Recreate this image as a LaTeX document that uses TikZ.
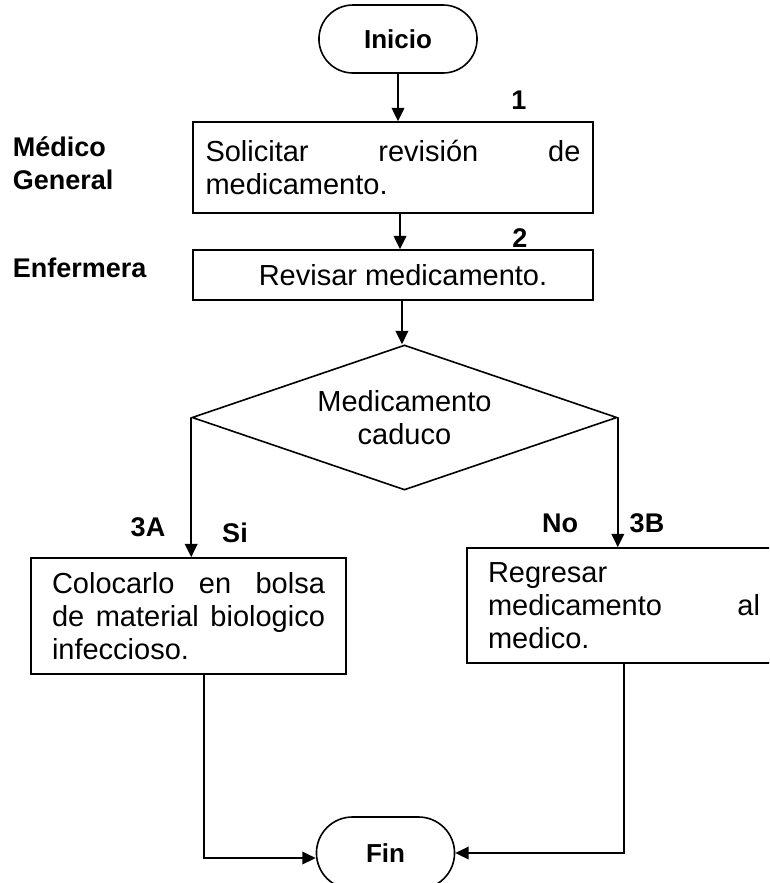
\documentclass[tikz,border=0pt]{standalone}
\usepackage{fontspec}
\setmainfont{Liberation Sans}
\usetikzlibrary{shapes.geometric, shapes.misc, arrows.meta, positioning}
\hyphenpenalty=10000 \exhyphenpenalty=10000 \tolerance=10000 \hbadness=10000
\tikzstyle{block} = [draw, fill=white, rectangle, inner ysep=0pt, inner xsep=15.75pt, align=justify, font=\fontsize{21.75}{24.75}\selectfont]
\tikzstyle{term} = [draw, rounded rectangle, font=\bfseries\fontsize{19.5}{24}\selectfont]
\tikzstyle{decision} = [draw, diamond, inner sep=0pt, aspect=2.9, align=center, font=\fontsize{21.75}{24.75}\selectfont]
\tikzstyle{tag} = [inner sep=0pt, align=left, font=\bfseries\fontsize{20.25}{24.75}\selectfont]

\begin{document}
\begin{tikzpicture}[x=0.75pt,y=-0.75pt,line width=1.2pt,>={Triangle[length=10pt,width=9.5pt]}]
  \useasboundingbox (0,0) rectangle (769,883);
  \clip (0,0) rectangle (769,883);
  % nodos del flujo
  \node [term, minimum width=125.25pt, minimum height=51pt] (inicio) at (398,39) {Inicio};
  \node [block, text width=281.25pt, inner xsep=9.4pt, minimum height=68.25pt] (solicitar) at (393,167.5) {Solicitar revisión de medicamento.};
  \node [block, minimum width=300pt, minimum height=37.5pt, align=center] (revisar) at (393,275) {\hspace*{15pt}Revisar medicamento.};
  \node [decision, minimum width=318.75pt, minimum height=108.75pt] (caduco) at (404.5,417.5) {Medicamento\\caduco};
  \node [block, text width=204.75pt, minimum height=87pt] (bolsa) at (188.5,616) {Colocarlo en bolsa de material biologico infeccioso.};
  \node [block, text width=204pt, minimum height=86.25pt] (regresar) at (624,605.5) {Regresar medicamento al medico.};
  \node [term, minimum width=110.25pt, minimum height=54pt] (fin) at (385.5,853) {Fin};
  % etiquetas
  \node [tag, anchor=west] (medico) at (12,163) {Médico\\General};
  \node [tag, anchor=west] (enfermera) at (12,268) {Enfermera};
  \node [tag] (paso1) at (519,100) {1};
  \node [tag] (paso2) at (520,238) {2};
  \node [tag] (paso3a) at (148,527) {3A};
  \node [tag] (si) at (235,533) {Si};
  \node [tag] (no) at (560,523) {No};
  \node [tag] (paso3b) at (647,523) {3B};
  % conectores
  \draw [->] (inicio) -- (inicio |- solicitar.north);
  \draw [->] ([xshift=5.25pt]solicitar.south) -- ([xshift=5.25pt]revisar.north);
  \draw [->] ([xshift=-1.9pt]caduco.north |- revisar.south) -- ([xshift=-1.9pt]caduco.north);
  \draw [->] (caduco.west) -- (caduco.west |- bolsa.north);
  \draw [->] (caduco.east) -- (caduco.east |- regresar.north);
  \draw [->] ([xshift=11.6pt]bolsa.south) |- ([yshift=-3.75pt]fin.west);
  \draw [->] (regresar.south) |- (fin.east);
\end{tikzpicture}
\end{document}
